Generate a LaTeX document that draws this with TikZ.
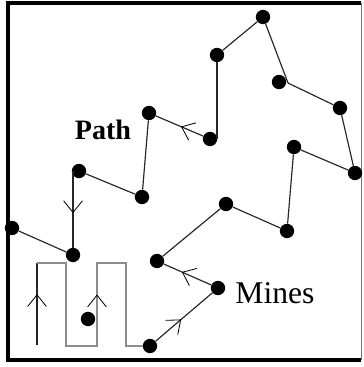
\documentclass[tikz,border=0pt]{standalone}
\usepackage{fontspec}
\setmainfont{Liberation Serif}
\usepackage{tikz}
\usetikzlibrary{arrows.meta, decorations.markings}

\begin{document}
\begin{tikzpicture}[
    x=0.03cm, y=-0.03cm,
    mine/.style={circle, fill=black, inner sep=0pt, minimum size=0.43cm},
    link/.style={line width=1pt, black!85},
    sweep/.style={line width=1.1pt, black!45},
    frame/.style={line width=2.6pt, black},
    mid/.style={postaction={decorate}, decoration={markings,
        mark=at position #1 with {\arrow[black, line width=0.7pt]{Straight Barb[length=10pt, width=16pt]}}}}
  ]
    \useasboundingbox (0,0) rectangle (363,367);

    % border
    \draw[frame] (361,3) -- (8,3) -- (8,360) -- (361,360);
    \draw[line width=0.8pt, black!55] (361,3) -- (361,360);

    % mines
    \node[mine] (m1)  at (12,228)  {};
    \node[mine] (m2)  at (73,255)  {};
    \node[mine] (m3)  at (79,171)  {};
    \node[mine] (m4)  at (142,197) {};
    \node[mine] (m5)  at (149,113) {};
    \node[mine] (m6)  at (210,139) {};
    \node[mine] (m7)  at (217,55)  {};
    \node[mine] (m8)  at (263,17)  {};
    \node[mine] (m9)  at (279,82)  {};
    \node[mine] (m10) at (340,108) {};
    \node[mine] (m11) at (355,173) {};
    \node[mine] (m12) at (294,147) {};
    \node[mine] (m13) at (287,231) {};
    \node[mine] (m14) at (226,204) {};
    \node[mine] (m15) at (157,261) {};
    \node[mine] (m16) at (218,288) {};
    \node[mine] (m17) at (150,346) {};
    \node[mine] (m18) at (88,319)  {};

    \coordinate (kink) at (288,83);
    \coordinate (start) at (37,345);
    \coordinate (turn) at (37,263);

    % sweep in the corner
    \draw[link, mid=0.62] (start) -- (turn);
    \draw[sweep] (turn) -- ++(29,0) -- ++(0,83) -- ++(31,0) coordinate (low2)
      -- ++(0,-83) coordinate (high2) -- ++(29,0) -- ++(0,83) -- (m17);
    \draw[sweep, mid=0.62] (low2) -- (high2);

    % path through the mines
    \draw[link, mid=0.45] (m17) -- (m16);
    \draw[link, mid=0.62] (m16) -- (m15);
    \draw[link] (m15) -- (m14);
    \draw[link] (m14) -- (m13);
    \draw[link] (m13) -- (m12);
    \draw[link] (m12) -- (m11);
    \draw[link] (m11) -- (m10);
    \draw[link] (m10) -- (kink);
    \draw[link] (kink) -- (m8);
    \draw[link] (m8) -- (m7);
    \draw[link] (m7) -- (m7 |- m6);
    \draw[link, mid=0.47] (m6) -- (m5);
    \draw[link] (m5) -- (m4);
    \draw[link] (m4) -- (m3);
    \draw[link, mid=0.55] (m2 |- m3) -- (m2);
    \draw[link] (m2) -- (m1);

    % labels
    \node[font=\fontsize{24}{26}\selectfont\bfseries, anchor=base] (pathlbl) at (103,139) {Path};
    \node[font=\fontsize{27}{29}\selectfont, anchor=base] (mineslbl) at (275,303) {Mines};
  \end{tikzpicture}
\end{document}
